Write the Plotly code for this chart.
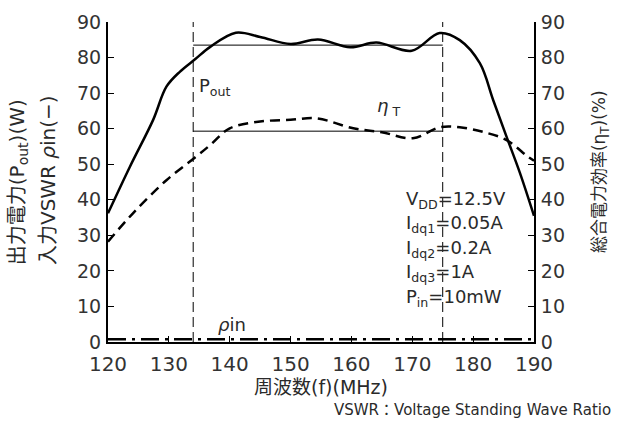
import plotly.graph_objects as go

# Data
freq_pout = [120, 123.6, 127.4, 129.6, 131.8, 134.3, 136.8, 141, 145, 150, 154.5, 159.8, 164.1, 169.9, 174.5, 177.8, 181.1, 183.3, 185.5, 187.7, 190]
pout = [36.2, 49.3, 62.4, 71.8, 76, 79.5, 83, 87, 85.8, 83.8, 85.1, 82.9, 84.2, 81.9, 86.9, 84.9, 78.4, 68, 57.7, 47.5, 35.5]
freq_eff = [120, 124.1, 129.6, 134.3, 136.8, 140, 145, 150, 154.3, 160.3, 165, 170.1, 174.5, 177.8, 181.6, 185.5, 189, 190]
eff = [28.2, 36.2, 45.5, 51.9, 55.4, 60.1, 62, 62.5, 62.9, 60.1, 59, 57.3, 60.4, 60.4, 59.1, 56.8, 52.1, 51]
freq_rho = [120, 190]
rho = [0.8, 0.8]
band = [134, 175]
pout_avg = 83.5
eff_avg = 59.3
xticks = [120, 130, 140, 150, 160, 170, 180, 190]
yticks = [0, 10, 20, 30, 40, 50, 60, 70, 80, 90]

font_family = "DejaVu Sans, Noto Sans CJK JP, sans-serif"
txt = "#2a2a2a"
fig = go.Figure()

fig.add_trace(go.Scatter(x=freq_pout, y=pout, mode="lines", line=dict(color="black", width=2.5, shape="spline"), showlegend=False))
fig.add_trace(go.Scatter(x=freq_eff, y=eff, mode="lines", line=dict(color="black", width=2.5, dash="10px,6px", shape="spline"), showlegend=False, yaxis="y2"))
fig.add_trace(go.Scatter(x=freq_rho, y=rho, mode="lines", line=dict(color="black", width=2.5, dash="18px,6px,3px,6px"), showlegend=False))
# band average lines
fig.add_trace(go.Scatter(x=band, y=[pout_avg, pout_avg], mode="lines", line=dict(color="black", width=1), showlegend=False))
fig.add_trace(go.Scatter(x=band, y=[eff_avg, eff_avg], mode="lines", line=dict(color="black", width=1), showlegend=False, yaxis="y2"))
# band edges
for b in band:
    fig.add_trace(go.Scatter(x=[b, b], y=[0, 90], mode="lines", line=dict(color="black", width=1, dash="10px,5px"), showlegend=False))

ann_font = dict(family=font_family, size=18, color=txt)
fig.add_annotation(x=134.6, y=71.7, text="P<sub>out</sub>", showarrow=False, xanchor="left", font=ann_font)
fig.add_annotation(x=163.9, y=66, text="<i>η</i><sub> T</sub>", showarrow=False, xanchor="left", font=ann_font)
fig.add_annotation(x=137.8, y=4.8, text="<i>ρ</i>in", showarrow=False, xanchor="left", font=ann_font)
cond = ["V<sub>DD</sub>=12.5V", "I<sub>dq1</sub>=0.05A", "I<sub>dq2</sub>=0.2A", "I<sub>dq3</sub>=1A", "P<sub>in</sub>=10mW"]
for i, t in enumerate(cond):
    fig.add_annotation(x=168.6, y=39.9 - i * 6.85, text=t, showarrow=False, xanchor="left", font=ann_font)

title_font = dict(family=font_family, size=19, color=txt)
left_font = dict(family=font_family, size=20, color=txt)
fig.add_annotation(xref="paper", yref="paper", x=1.185, y=-0.2125, text="VSWR：Voltage Standing Wave Ratio", showarrow=False,
                   xanchor="right", yanchor="middle", font=dict(family=font_family, size=15, color=txt))
fig.add_annotation(xref="paper", yref="paper", x=-0.211, y=0.234, text="出力電力(P<sub>out</sub>)(W)", showarrow=False,
                   textangle=-90, xanchor="center", yanchor="bottom", font=left_font)
fig.add_annotation(xref="paper", yref="paper", x=-0.141, y=0.234, text="入力VSWR <i>ρ</i>in(−)", showarrow=False,
                   textangle=-90, xanchor="center", yanchor="bottom", font=left_font)
fig.add_annotation(xref="paper", yref="paper", x=1.155, y=0.531, text="総合電力効率(η<sub>T</sub>)(%)", showarrow=False,
                   textangle=-90, xanchor="center", yanchor="middle", font=dict(family=font_family, size=17, color=txt))

xtickfont = dict(family="DejaVu Sans, sans-serif", size=20, color="#333")
ytickfont = dict(family="DejaVu Sans, sans-serif", size=19, color="#333")
fig.update_layout(
    width=617, height=425,
    margin=dict(l=108, r=83, t=22, b=83),
    paper_bgcolor="white", plot_bgcolor="white",
    xaxis=dict(range=[120, 190], tickvals=xticks, ticks="inside", ticklen=6, tickcolor="black",
               showline=True, linecolor="black", linewidth=2, showgrid=False, zeroline=False,
               tickfont=xtickfont, ticklabelstandoff=3,
               title=dict(text="周波数(f)(MHz)", font=title_font, standoff=0)),
    yaxis=dict(range=[0, 90], tickvals=yticks, ticks="inside", ticklen=6, tickcolor="black",
               showline=True, linecolor="black", linewidth=2, showgrid=False, zeroline=False,
               tickfont=ytickfont, ticklabelstandoff=1),
    yaxis2=dict(range=[0, 90], tickvals=yticks, ticks="inside", ticklen=6, tickcolor="black", overlaying="y", side="right",
                showline=True, linecolor="black", linewidth=2, showgrid=False, zeroline=False,
                tickfont=ytickfont, ticklabelstandoff=1),
)

fig.write_html("out.html")
